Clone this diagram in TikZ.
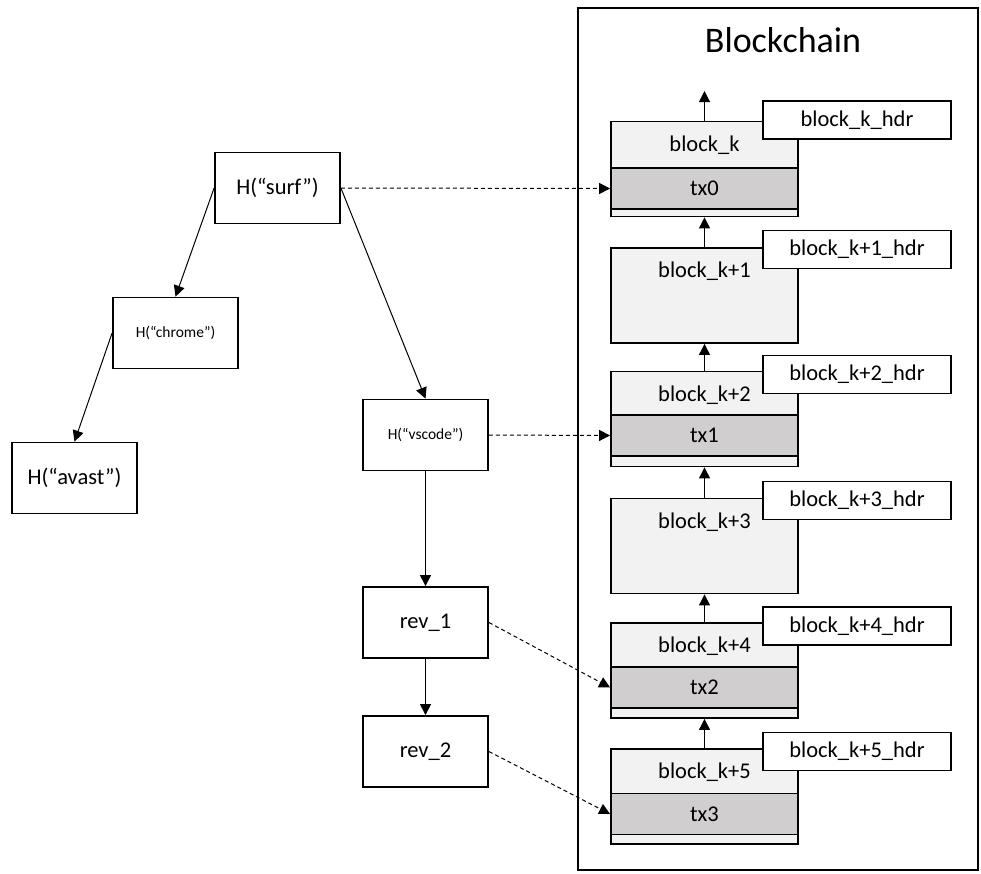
\documentclass[tikz,border=0pt]{standalone}
\usepackage{fontspec}
\setmainfont{Carlito}
\usetikzlibrary{arrows.meta}
\definecolor{blkgray}{HTML}{F2F2F2}
\definecolor{txgray}{HTML}{D0CECE}
\begin{document}
\begin{tikzpicture}[x=1pt,y=-1pt,
  txt/.style={font=\fontsize{22.5}{26}\selectfont},
  smalltxt/.style={font=\fontsize{15.5}{18}\selectfont},
  box/.style={draw=black,line width=1.8pt,fill=white,inner sep=0pt,minimum width=125pt,minimum height=71pt},
  blk/.style={draw=black,line width=1.8pt,fill=blkgray,inner sep=0pt,minimum width=187pt,minimum height=95pt},
  txbox/.style={draw=black,line width=1.8pt,fill=txgray,inner sep=0pt,minimum width=187pt,minimum height=41pt,txt},
  hdr/.style={draw=black,line width=1.8pt,fill=white,inner sep=0pt,minimum width=188pt,minimum height=38pt,txt},
  lbl/.style={inner sep=0pt,txt},
  conn/.style={line width=1pt,-{Triangle[length=11pt,width=11pt]}},
  dconn/.style={conn,dash pattern=on 4pt off 3pt}
]
\useasboundingbox (0,0) rectangle (981,873);
% blockchain frame
\draw[line width=1.5pt] (578,8) rectangle (978,870);
\node[inner sep=0pt,font=\fontsize{36}{40}\selectfont] (title) at (783,40) {Blockchain};

% blocks
\node[blk] (b0) at (704.5,169) {};
\node[txbox] (tx0) at (704.5,188.5) {tx0};
\node[lbl] (l0) at (704.5,145) {block\_k};

\node[blk] (b1) at (704.5,295.5) {};
\node[lbl] (l1) at (704.5,271) {block\_k+1};

\node[blk] (b2) at (704.5,419) {};
\node[txbox] (tx1) at (704.5,435.5) {tx1};
\node[lbl] (l2) at (704.5,395) {block\_k+2};

\node[blk] (b3) at (704.5,546) {};
\node[lbl] (l3) at (704.5,522) {block\_k+3};

\node[blk] (b4) at (704.5,670.5) {};
\node[txbox] (tx2) at (704.5,687.5) {tx2};
\node[lbl] (l4) at (704.5,646) {block\_k+4};

\node[blk] (b5) at (704.5,796.5) {};
\node[txbox] (tx3) at (704.5,814) {tx3};
\node[lbl] (l5) at (704.5,772) {block\_k+5};

% headers
\node[hdr] (h0) at (857,120) {block\_k\_hdr};
\node[hdr] (h1) at (857,249.5) {block\_k+1\_hdr};
\node[hdr] (h2) at (857,374.5) {block\_k+2\_hdr};
\node[hdr] (h3) at (857,500.5) {block\_k+3\_hdr};
\node[hdr] (h4) at (857,626) {block\_k+4\_hdr};
\node[hdr] (h5) at (857,751.5) {block\_k+5\_hdr};

% chain arrows
\coordinate (top) at (704.5,91);
\draw[conn] (b0.north) -- (top);
\draw[conn] (b1.north) -- (b0.south);
\draw[conn] (b2.north) -- (b1.south);
\draw[conn] (b3.north) -- (b2.south);
\draw[conn] (b4.north) -- (b3.south);
\draw[conn] (b5.north) -- (b4.south);

% left tree
\node[box,txt] (surf) at (277.5,188) {H(“surf”)};
\node[box,smalltxt] (chrome) at (175.5,333) {H(“chrome”)};
\node[box,txt] (avast) at (74.5,478) {H(“avast”)};
\node[box,smalltxt] (vscode) at (425.5,435) {H(“vscode”)};
\node[box,txt] (rev1) at (425.5,622.5) {rev\_1};
\node[box,txt] (rev2) at (425.5,751.5) {rev\_2};

\draw[conn] (surf.west) -- (chrome.north);
\draw[conn] (chrome.west) -- (avast.north);
\draw[conn] (surf.east) -- (vscode.north);
\draw[conn] (vscode.south) -- (rev1.north);
\draw[conn] (rev1.south) -- (rev2.north);

\draw[dconn] (surf.east) -- (tx0.west);
\draw[dconn] (vscode.east) -- (tx1.west);
\draw[dconn] (rev1.east) -- (tx2.west);
\draw[dconn] (rev2.east) -- (tx3.west);
\end{tikzpicture}
\end{document}
